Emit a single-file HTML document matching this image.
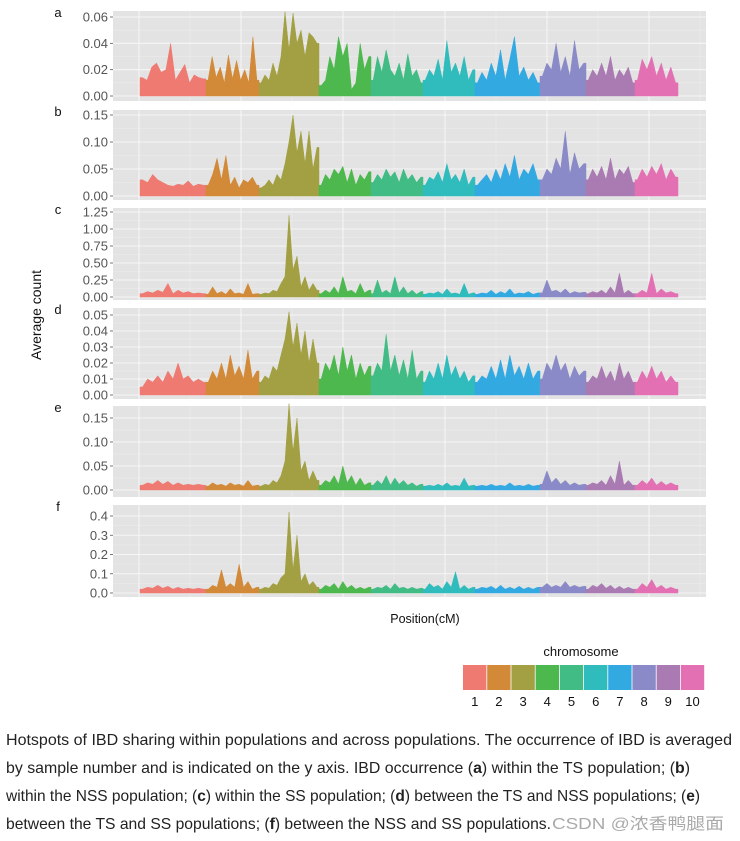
<!DOCTYPE html>
<html><head><meta charset="utf-8"><style>
html,body{margin:0;padding:0;background:#fff;}
svg{display:block;font-family:"Liberation Sans","Noto Sans CJK SC",sans-serif;}
</style></head><body>
<svg id="chart" width="740" height="841" viewBox="0 0 740 841">
<g id="panels"></g>
<text x="41" y="315" transform="rotate(-90 41 315)" text-anchor="middle" font-size="14" fill="#111">Average count</text>
<text x="425" y="623" text-anchor="middle" font-size="12.5" fill="#111">Position(cM)</text>
<text x="581" y="656" text-anchor="middle" font-size="13" fill="#111">chromosome</text>
<g id="legend"></g>
<g fill="#222" font-size="16">
<text x="6" y="745" textLength="726" lengthAdjust="spacingAndGlyphs">Hotspots of IBD sharing within populations and across populations. The occurrence of IBD is averaged</text>
<text x="6" y="773" textLength="684" lengthAdjust="spacingAndGlyphs">by sample number and is indicated on the y axis. IBD occurrence (<tspan font-weight="bold">a</tspan>) within the TS population; (<tspan font-weight="bold">b</tspan>)</text>
<text x="6" y="801" textLength="694" lengthAdjust="spacingAndGlyphs">within the NSS population; (<tspan font-weight="bold">c</tspan>) within the SS population; (<tspan font-weight="bold">d</tspan>) between the TS and NSS populations; (<tspan font-weight="bold">e</tspan>)</text>
<text x="6" y="829" textLength="545" lengthAdjust="spacingAndGlyphs">between the TS and SS populations; (<tspan font-weight="bold">f</tspan>) between the NSS and SS populations.</text>
<text x="552" y="829" textLength="172" lengthAdjust="spacingAndGlyphs" fill="#aaa">CSDN @浓香鸭腿面</text>
</g>
</svg>
<script>
const chromosomes=["1","2","3","4","5","6","7","8","9","10"];
const chromColors=["#EE7A72","#D28A38","#A2A042","#4DB84D","#40BC84","#30BCBC","#33A9E2","#8A8AC8","#AA7AB2","#E270B2"];
const chromBounds=[140,206,259,319,371,423,475,540,586,635,678];
const panelLetters=["a","b","c","d","e","f"];
const ticksA=[0,0.02,0.04,0.06];
const ticksB=[0,0.05,0.10,0.15];
const ticksC=[0,0.25,0.5,0.75,1.0,1.25];
const ticksD=[0,0.01,0.02,0.03,0.04,0.05];
const ticksE=[0,0.05,0.10,0.15];
const ticksF=[0,0.1,0.2,0.3,0.4];
const tickLabA=["0.00","0.02","0.04","0.06"];
const tickLabB=["0.00","0.05","0.10","0.15"];
const tickLabC=["0.00","0.25","0.50","0.75","1.00","1.25"];
const tickLabD=["0.00","0.01","0.02","0.03","0.04","0.05"];
const tickLabE=["0.00","0.05","0.10","0.15"];
const tickLabF=["0.0","0.1","0.2","0.3","0.4"];
const seriesA=[
[0.014,0.012,0.022,0.025,0.018,0.020,0.040,0.012,0.018,0.024,0.010,0.016,0.014,0.013],
[0.012,0.030,0.014,0.022,0.010,0.031,0.013,0.027,0.012,0.020,0.010,0.045,0.012],
[0.010,0.016,0.012,0.025,0.015,0.030,0.064,0.035,0.063,0.040,0.050,0.030,0.048,0.045,0.040],
[0.008,0.012,0.030,0.020,0.045,0.030,0.040,0.005,0.010,0.040,0.020,0.030],
[0.012,0.030,0.018,0.035,0.020,0.015,0.025,0.012,0.032,0.015,0.020,0.010],
[0.012,0.020,0.015,0.028,0.012,0.042,0.018,0.025,0.015,0.030,0.012,0.020],
[0.010,0.018,0.012,0.025,0.015,0.035,0.012,0.028,0.045,0.015,0.022,0.012,0.018,0.010],
[0.015,0.025,0.020,0.040,0.018,0.030,0.015,0.042,0.020,0.025],
[0.012,0.020,0.015,0.025,0.015,0.030,0.012,0.020,0.015,0.022,0.010],
[0.012,0.028,0.020,0.030,0.015,0.025,0.012,0.022,0.010]];
const seriesB=[
[0.03,0.025,0.04,0.03,0.025,0.02,0.018,0.022,0.02,0.028,0.018,0.022,0.02],
[0.02,0.04,0.07,0.03,0.075,0.02,0.035,0.015,0.03,0.025,0.035,0.02],
[0.015,0.02,0.03,0.02,0.04,0.03,0.06,0.10,0.15,0.08,0.12,0.06,0.12,0.05,0.09],
[0.02,0.04,0.03,0.05,0.04,0.055,0.025,0.05,0.02,0.04,0.03,0.045],
[0.025,0.04,0.03,0.05,0.035,0.045,0.025,0.05,0.03,0.04,0.025,0.035],
[0.02,0.035,0.03,0.045,0.025,0.06,0.03,0.04,0.025,0.05,0.02,0.035],
[0.02,0.03,0.04,0.025,0.05,0.03,0.06,0.035,0.075,0.03,0.05,0.04,0.06,0.03],
[0.03,0.05,0.04,0.07,0.05,0.12,0.04,0.08,0.05,0.06],
[0.03,0.05,0.035,0.055,0.03,0.07,0.03,0.05,0.04,0.055,0.025],
[0.03,0.05,0.035,0.055,0.04,0.06,0.03,0.05,0.035]];
const seriesC=[
[0.05,0.08,0.06,0.1,0.07,0.2,0.05,0.1,0.06,0.08,0.05,0.06,0.05],
[0.04,0.15,0.05,0.08,0.04,0.12,0.05,0.06,0.04,0.2,0.04,0.05],
[0.04,0.06,0.05,0.1,0.08,0.2,0.3,1.2,0.4,0.6,0.15,0.3,0.1,0.2,0.1],
[0.05,0.1,0.06,0.15,0.05,0.3,0.08,0.1,0.05,0.2,0.06,0.1],
[0.05,0.25,0.06,0.1,0.05,0.3,0.06,0.15,0.05,0.1,0.04,0.08],
[0.04,0.06,0.05,0.08,0.04,0.12,0.05,0.06,0.04,0.2,0.04,0.06],
[0.04,0.06,0.05,0.1,0.04,0.08,0.05,0.12,0.04,0.06,0.05,0.08,0.04,0.06],
[0.06,0.25,0.08,0.1,0.06,0.12,0.05,0.08,0.06,0.07],
[0.05,0.08,0.06,0.1,0.05,0.15,0.06,0.35,0.05,0.1,0.05],
[0.05,0.1,0.06,0.35,0.05,0.12,0.06,0.08,0.05]];
const seriesD=[
[0.005,0.01,0.008,0.012,0.008,0.015,0.01,0.02,0.01,0.012,0.008,0.01,0.008],
[0.008,0.015,0.01,0.02,0.01,0.025,0.012,0.018,0.01,0.028,0.01,0.015],
[0.008,0.012,0.01,0.018,0.015,0.025,0.035,0.052,0.03,0.045,0.025,0.04,0.02,0.035,0.02],
[0.01,0.02,0.015,0.025,0.012,0.03,0.015,0.025,0.01,0.02,0.012,0.018],
[0.012,0.02,0.015,0.038,0.015,0.025,0.012,0.022,0.01,0.028,0.01,0.015],
[0.008,0.015,0.01,0.02,0.01,0.025,0.012,0.018,0.01,0.015,0.008,0.012],
[0.008,0.012,0.01,0.018,0.01,0.022,0.01,0.025,0.012,0.018,0.01,0.02,0.01,0.015],
[0.01,0.02,0.015,0.025,0.015,0.02,0.01,0.018,0.012,0.015],
[0.008,0.012,0.01,0.018,0.01,0.015,0.008,0.02,0.01,0.015,0.008],
[0.008,0.015,0.01,0.018,0.01,0.015,0.008,0.012,0.008]];
const seriesE=[
[0.01,0.015,0.012,0.02,0.012,0.018,0.01,0.015,0.01,0.012,0.01,0.012,0.01],
[0.008,0.015,0.01,0.012,0.008,0.015,0.01,0.012,0.008,0.02,0.008,0.01],
[0.008,0.012,0.01,0.02,0.015,0.03,0.06,0.18,0.08,0.15,0.04,0.06,0.02,0.04,0.02],
[0.01,0.02,0.015,0.03,0.012,0.05,0.015,0.03,0.01,0.025,0.01,0.015],
[0.01,0.02,0.012,0.03,0.01,0.025,0.012,0.02,0.01,0.015,0.008,0.012],
[0.008,0.01,0.008,0.012,0.008,0.015,0.008,0.01,0.008,0.025,0.008,0.01],
[0.008,0.01,0.008,0.012,0.008,0.01,0.008,0.015,0.008,0.01,0.008,0.012,0.008,0.01],
[0.012,0.04,0.015,0.025,0.012,0.02,0.01,0.015,0.01,0.012],
[0.01,0.015,0.012,0.02,0.01,0.03,0.012,0.06,0.01,0.02,0.01],
[0.01,0.02,0.012,0.025,0.01,0.018,0.01,0.015,0.01]];
const seriesF=[
[0.02,0.03,0.025,0.04,0.025,0.035,0.02,0.03,0.02,0.025,0.02,0.025,0.02],
[0.02,0.04,0.03,0.12,0.03,0.05,0.03,0.15,0.03,0.06,0.02,0.03],
[0.02,0.03,0.025,0.05,0.04,0.08,0.1,0.42,0.12,0.3,0.06,0.1,0.04,0.06,0.03],
[0.02,0.04,0.03,0.05,0.02,0.06,0.025,0.04,0.02,0.03,0.02,0.03],
[0.02,0.03,0.025,0.04,0.02,0.05,0.025,0.03,0.02,0.03,0.02,0.025],
[0.02,0.05,0.03,0.04,0.02,0.06,0.03,0.11,0.02,0.04,0.02,0.03],
[0.02,0.03,0.025,0.035,0.02,0.04,0.02,0.03,0.02,0.035,0.02,0.03,0.02,0.03],
[0.03,0.05,0.03,0.04,0.03,0.06,0.03,0.04,0.03,0.035],
[0.02,0.04,0.03,0.05,0.025,0.04,0.02,0.035,0.02,0.03,0.02],
[0.02,0.05,0.03,0.07,0.025,0.04,0.02,0.03,0.02]];

const NS="http://www.w3.org/2000/svg";
function mk(tag,attrs,parent){const e=document.createElementNS(NS,tag);for(const k in attrs)e.setAttribute(k,attrs[k]);parent.appendChild(e);return e;}
const panels=[
 {s:seriesA,t:ticksA,l:tickLabA,top:11,bot:101,y0:96,yT:17},
 {s:seriesB,t:ticksB,l:tickLabB,top:110,bot:200,y0:196,yT:115},
 {s:seriesC,t:ticksC,l:tickLabC,top:208,bot:300,y0:297,yT:212},
 {s:seriesD,t:ticksD,l:tickLabD,top:308,bot:399,y0:395,yT:315},
 {s:seriesE,t:ticksE,l:tickLabE,top:406,bot:497,y0:490,yT:418},
 {s:seriesF,t:ticksF,l:tickLabF,top:505,bot:597,y0:593,yT:516}];
const root=document.getElementById('panels');
const X0=113,X1=706;
panels.forEach((p,pi)=>{
 const g=mk('g',{},root);
 
 
 const tmax=p.t[p.t.length-1];
 const y=v=>p.y0-(v/tmax)*(p.y0-p.yT);
 const bg=mk('rect',{x:X0,y:p.top,width:X1-X0,height:p.bot-p.top,fill:'#E3E3E3'},g);
 
 
 for(let i=0;i<p.t.length-1;i++){const ym=y((p.t[i]+p.t[i+1])/2);mk('line',{x1:X0,x2:X1,y1:ym,y2:ym,stroke:'#EDEDED','stroke-width':0.6},g);}
 for(let gx=139-51;gx<X1;gx+=102){if(gx>X0)mk('line',{x1:gx,x2:gx,y1:p.top,y2:p.bot,stroke:'#EDEDED','stroke-width':0.6},g);}
 for(let gx=139;gx<X1;gx+=102){mk('line',{x1:gx,x2:gx,y1:p.top,y2:p.bot,stroke:'#F6F6F6','stroke-width':1.1},g);}
 p.t.forEach((tv,ti)=>{
  const yy=y(tv);
  mk('line',{x1:X0,x2:X1,y1:yy,y2:yy,stroke:'#F6F6F6','stroke-width':1.1},g);
  mk('line',{x1:X0-3,x2:X0,y1:yy,y2:yy,stroke:'#555','stroke-width':0.8},g);
  const tx=mk('text',{x:X0-5,y:yy+4.5,'text-anchor':'end','font-size':13,fill:'#555'},g);
  tx.textContent=p.l[ti];
  
  
 });
 const lt=mk('text',{x:58,y:p.top+6,'text-anchor':'middle','font-size':13,fill:'#111'},g);
 lt.textContent=panelLetters[pi];
 
 
 p.s.forEach((vals,ci)=>{
  const xa=chromBounds[ci],xb=chromBounds[ci+1],n=vals.length;
  const pts=[[xa,p.y0],[xa,y(vals[0])]];
  vals.forEach((v,i)=>{pts.push([xa+(xb-xa)*(i+0.5)/n,y(v)]);});
  pts.push([xb,y(vals[n-1])]);
  pts.push([xb,p.y0]);
  const d='M'+pts.map(q=>q[0].toFixed(2)+','+q[1].toFixed(2)).join(' L')+' Z';
  const a=mk('path',{d:d,fill:chromColors[ci],stroke:chromColors[ci],'stroke-width':0.5},g);
  
  
 });
});
const lg=document.getElementById('legend');
chromosomes.forEach((c,i)=>{
 const x=463+i*24.2;
 const r=mk('rect',{x:x,y:665,width:23.4,height:25,fill:chromColors[i]},lg);
 
 
 const t=mk('text',{x:x+11.7,y:706,'text-anchor':'middle','font-size':13,fill:'#111'},lg);
 t.textContent=c;
 
 
});
</script>
</body></html>
